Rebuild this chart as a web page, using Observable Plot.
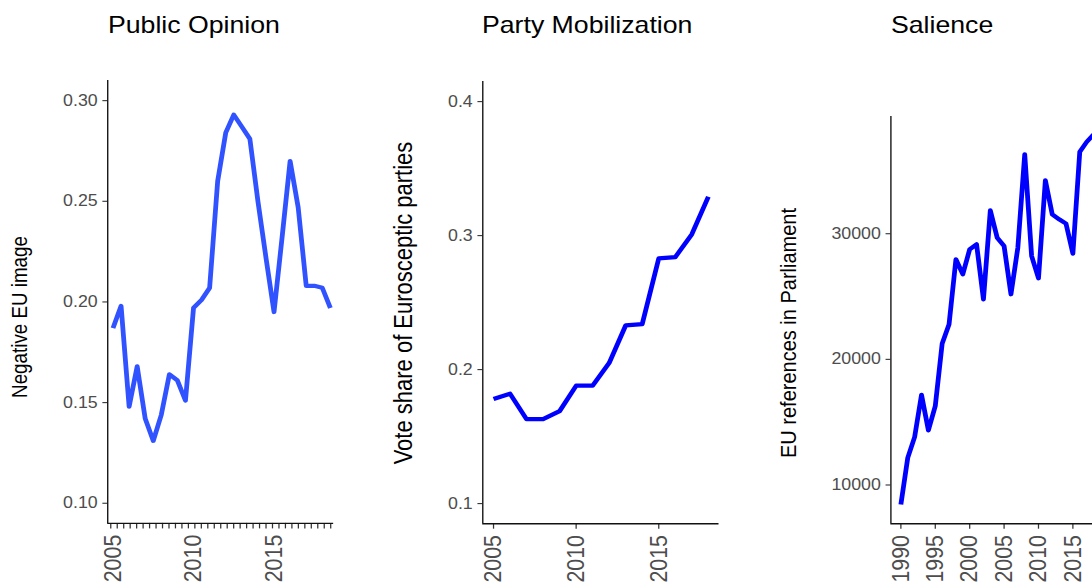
<!DOCTYPE html>
<html>
<head>
<meta charset="utf-8">
<script src="https://cdn.jsdelivr.net/npm/d3@7"></script>
<script src="https://cdn.jsdelivr.net/npm/@observablehq/plot@0.6"></script>
<style>
  html, body { margin: 0; padding: 0; background: #fff; overflow: hidden; }
  #stage { position: relative; width: 1092px; height: 584px; overflow: hidden; background: #fff; }
  #inner { position: absolute; left: 0; top: 0; transform-origin: 0 0; }
  .panel { position: absolute; }
  .panel svg { max-width: none !important; }
  #overlay { position: absolute; left: 0; top: 0; overflow: visible; }
</style>
</head>
<body>
<div id="stage"><div id="inner"></div></div>
<script>
// ---------------- data ----------------
const opinionYears = [2005, 2005.5, 2006, 2006.5, 2007, 2007.5, 2008, 2008.5, 2009, 2009.5,
  2010, 2010.5, 2011, 2011.5, 2012, 2012.5, 2013, 2013.5, 2014, 2014.5,
  2015, 2015.5, 2016, 2016.5, 2017, 2017.5, 2018, 2018.5];
const opinionValues = [0.187, 0.198, 0.148, 0.168, 0.142, 0.131, 0.144, 0.164, 0.161, 0.151,
  0.197, 0.201, 0.207, 0.260, 0.284, 0.293, 0.287, 0.281, 0.250, 0.222,
  0.195, 0.232, 0.270, 0.247, 0.208, 0.208, 0.207, 0.197];

const mobilizationYears = [2005, 2006, 2007, 2008, 2009, 2010, 2011, 2012, 2013, 2014, 2015, 2016, 2017, 2018];
const mobilizationValues = [0.178, 0.182, 0.163, 0.163, 0.169, 0.188, 0.188, 0.205, 0.233, 0.234, 0.283, 0.284, 0.301, 0.329];

const salienceYears = [1990, 1991, 1992, 1993, 1994, 1995, 1996, 1997, 1998, 1999,
  2000, 2001, 2002, 2003, 2004, 2005, 2006, 2007, 2008, 2009,
  2010, 2011, 2012, 2013, 2014, 2015, 2016, 2017, 2018];
const salienceValues = [8450, 12170, 13820, 17180, 14350, 16290, 21250, 22780, 27960, 26770,
  28760, 29160, 24780, 31860, 29680, 29020, 25180, 28890, 36320, 28230,
  26450, 34250, 31540, 31150, 30800, 28420, 36520, 37300, 37900];

const panelTitles = ["Public Opinion", "Party Mobilization", "Salience"];
const yAxisTitles = ["Negative EU image", "Vote share of Eurosceptic parties", "EU references in Parliament"];

const opinionYTicks = [0.10, 0.15, 0.20, 0.25, 0.30];
const opinionXLabels = [2005, 2010, 2015];
const opinionMinorTicks = d3.range(0, 35).map(i => 2004.86 + i * 0.4018);
const mobilizationYTicks = [0.1, 0.2, 0.3, 0.4];
const mobilizationXTicks = [2005, 2010, 2015];
const salienceYTicks = [10000, 20000, 30000];
const salienceXTicks = [1990, 1995, 2000, 2005, 2010, 2015];

// ---------------- layout ----------------
const S = 1.14;               // horizontal stretch of the reference picture
const FONT = "'Liberation Sans', Arial, Helvetica, sans-serif";
const TICK_FS = 15.6, XTICK_FS = 21.4, TITLE_FS = 23.4;
const YTITLE_FS = [18.8, 22, 20];
const inner = document.getElementById("inner");
inner.style.width = (1300 / S) + "px";
inner.style.height = "584px";
inner.style.transform = `scaleX(${S})`;

function panel(cfg) {
  const mL = 80, mR = 14, mT = 6, mB = 70;
  const fl = cfg.left / S, fr = cfg.right / S;
  const width = fr - fl + mL + mR;
  const height = cfg.bottom - cfg.top + mT + mB;
  const marks = [
    Plot.axisY({ticks: cfg.yTicks, tickFormat: cfg.yFormat, tickSize: 4.2, tickPadding: 4.6,
      fontSize: TICK_FS, fill: "#4d4d4d", stroke: "#333333", strokeWidth: 1.1, label: null}),
    ...cfg.xAxes,
    Plot.ruleX([cfg.xDomain[0]], {stroke: "#111", strokeWidth: 1.2}),
    Plot.ruleY([cfg.yDomain[0]], {stroke: "#111", strokeWidth: 1.4}),
    Plot.line(cfg.values, {x: cfg.years, y: cfg.values, stroke: cfg.color, strokeWidth: 4.2,
      strokeLinejoin: "round", strokeLinecap: "butt"})
  ];
  const svg = Plot.plot({
    width, height, marginLeft: mL, marginRight: mR, marginTop: mT, marginBottom: mB,
    style: {fontFamily: FONT, background: "none", overflow: "visible", maxWidth: "none"},
    x: {domain: cfg.xDomain},
    y: {domain: cfg.yDomain},
    marks
  });
  svg.style.maxWidth = "none";
  svg.style.width = width + "px";
  svg.style.height = height + "px";
  const wrap = document.createElement("div");
  wrap.className = "panel";
  wrap.style.left = (fl - mL) + "px";
  wrap.style.top = (cfg.top - mT) + "px";
  wrap.style.width = width + "px";
  wrap.style.height = height + "px";
  wrap.appendChild(svg);
  inner.appendChild(wrap);
}

const yearFmt = d => String(d);
const xLabelOpts = {tickRotate: -90, fontSize: XTICK_FS, fill: "#4d4d4d", stroke: "#333333",
  strokeWidth: 1.1, label: null, tickFormat: yearFmt};

panel({
  left: 107, right: 333, top: 79.9, bottom: 522.8,
  xDomain: [2004.671, 2018.708], yDomain: [0.09, 0.31],
  yTicks: opinionYTicks, yFormat: d3.format(".2f"),
  years: opinionYears, values: opinionValues, color: "#3052ff",
  xAxes: [
    Plot.axisX({ticks: opinionMinorTicks, tickSize: 5.5, tickFormat: () => "", stroke: "#333333", strokeWidth: 1.1, label: null}),
    Plot.axisX({...xLabelOpts, ticks: opinionXLabels, tickSize: 0, tickPadding: 11.3})
  ]
});

panel({
  left: 481.7, right: 718, top: 80.6, bottom: 522.8,
  xDomain: [2004.35, 2018.65], yDomain: [0.085, 0.415],
  yTicks: mobilizationYTicks, yFormat: d3.format(".1f"),
  years: mobilizationYears, values: mobilizationValues, color: "#0000ff",
  xAxes: [
    Plot.axisX({...xLabelOpts, ticks: mobilizationXTicks, tickSize: 5.5, tickPadding: 5.8})
  ]
});

panel({
  left: 890.7, right: 1103.3, top: 115.5, bottom: 522.7,
  xDomain: [1988.55, 2019.45], yDomain: [6920, 39330],
  yTicks: salienceYTicks, yFormat: d3.format("d"),
  years: salienceYears, values: salienceValues, color: "#0000ff",
  xAxes: [
    Plot.axisX({...xLabelOpts, ticks: salienceXTicks, tickSize: 5.5, tickPadding: 5.8})
  ]
});

// ---------------- titles & axis titles ----------------
const NS = "http://www.w3.org/2000/svg";
const overlay = document.createElementNS(NS, "svg");
overlay.setAttribute("id", "overlay");
overlay.setAttribute("width", 1300 / S);
overlay.setAttribute("height", 584);
overlay.style.fontFamily = FONT;
inner.appendChild(overlay);

const titlePos = [[108, 33], [482, 33], [891, 33]];
panelTitles.forEach((t, i) => {
  const el = document.createElementNS(NS, "text");
  el.setAttribute("x", titlePos[i][0] / S);
  el.setAttribute("y", titlePos[i][1]);
  el.setAttribute("font-size", TITLE_FS);
  el.setAttribute("fill", "#000");
  el.textContent = t;
  overlay.appendChild(el);
});

const yTitlePos = [[21.5, 317], [406, 303], [790, 333]];
yAxisTitles.forEach((t, i) => {
  const el = document.createElementNS(NS, "text");
  el.setAttribute("transform", `translate(${yTitlePos[i][0] / S},${yTitlePos[i][1]}) rotate(-90)`);
  el.setAttribute("text-anchor", "middle");
  el.setAttribute("dy", "0.25em");
  el.setAttribute("font-size", YTITLE_FS[i]);
  el.setAttribute("fill", "#000");
  el.textContent = t;
  overlay.appendChild(el);
});
</script>
</body>
</html>
